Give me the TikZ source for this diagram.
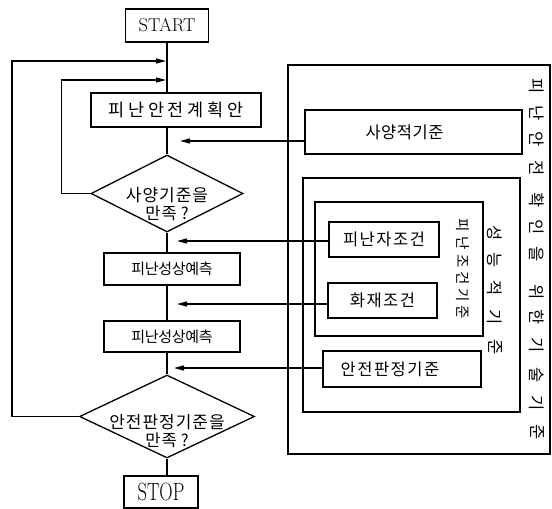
\documentclass[tikz,border=0pt]{standalone}
\usepackage{fontspec}
\newfontfamily\kr{Noto Sans CJK KR}
\usetikzlibrary{arrows.meta,shapes.geometric}
\makeatletter
\newcommand\trk[2]{\@tfor\trk@c:=#2\do{\trk@c\kern#1}\unkern}
\makeatother
\begin{document}
\begin{tikzpicture}[x=1pt,y=-1pt,
  ln/.style={line width=1.3pt},
  arr/.style={line width=1.3pt,-{Triangle[length=10pt,width=5pt]}},
  bx/.style={draw,line width=1.3pt,inner sep=0pt},
  dia/.style={draw,diamond,line width=1.3pt,inner sep=0pt},
  kt/.style={font=\kr\fontsize{16.5}{18}\selectfont},
  vt/.style={font=\kr\fontsize{16.5}{16}\selectfont,rotate=-90,inner sep=0pt},
  vs/.style={font=\kr\fontsize{14.5}{14}\selectfont,rotate=-90,inner sep=0pt}]
\useasboundingbox (0,0) rectangle (552,509);
% left flow
\node[bx,minimum width=83pt,minimum height=33pt] (st) at (167,25.5) {\fontsize{18.5}{20}\selectfont START};
\node[bx,minimum width=170pt,minimum height=34pt,kt] (b0) at (176,110) {\fontsize{17.5}{18}\selectfont\trk{3.8pt}{피난안전계획안}};
\node[dia,minimum width=152pt,minimum height=77pt] (d1) at (167,193.5) {};
\node[kt,align=center,inner sep=0pt] (d1t) at (167,204) {\fontsize{17}{21}\selectfont\trk{1pt}{사양기준을}\\\trk{1pt}{만족}\kern4pt?};
\node[bx,minimum width=136pt,minimum height=32pt,kt] (b1) at (172,269) {\fontsize{15}{16}\selectfont\trk{-0.3pt}{피난성상예측}};
\node[bx,minimum width=136pt,minimum height=31pt,kt] (b2) at (172,336.5) {\fontsize{15}{16}\selectfont\trk{-0.3pt}{피난성상예측}};
\node[dia,minimum width=175pt,minimum height=83pt] (d2) at (167,416.5) {};
\node[kt,align=center,inner sep=0pt] (d2t) at (167,431) {\fontsize{17}{24}\selectfont\trk{1pt}{안전판정기준을}\\\trk{1pt}{만족}\kern4pt?};
\node[bx,minimum width=74pt,minimum height=32pt] (sp) at (161,492) {\fontsize{18.5}{20}\selectfont\scalebox{1}[1.35]{STOP}};
% main line
\draw[ln] (st.south) -- (b0.north -| st.south);
\draw[ln] (b0.south -| st.south) -- (d1.north);
\draw[ln] (d1.south) -- (b1.north -| d1.south);
\draw[ln] (b1.south -| d1.south) -- (b2.north -| d1.south);
\draw[ln] (b2.south -| d1.south) -- (d2.north);
\draw[ln] (d2.south) -- (sp.north -| d2.south);
% feedback loops
\coordinate (in1) at (166,80);
\coordinate (in2) at (166,61);
\draw[arr] (d1.west) -- ++(-29,0) |- (in1);
\draw[arr] (d2.west) -- ++(-67,0) |- (in2);
% right side
\node[bx,minimum width=262pt,minimum height=389pt] (outer) at (419,259.5) {};
\node[bx,minimum width=217pt,minimum height=44pt,kt] (sy) at (413.5,132) {\trk{0.5pt}{사양적기준}\kern18pt};
\node[bx,minimum width=217pt,minimum height=234pt] (perf) at (411.5,295) {};
\node[bx,minimum width=168pt,minimum height=134pt] (evac) at (399,269) {};
\node[bx,minimum width=110pt,minimum height=35pt,kt] (pz) at (384,239.5) {\trk{1.5pt}{피난자조건}};
\node[bx,minimum width=109pt,minimum height=35pt,kt] (fire) at (382.5,300.5) {\trk{1.5pt}{화재조건}};
\node[bx,minimum width=158pt,minimum height=36pt,kt] (safe) at (402,369) {\trk{1.5pt}{안전판정기준}\kern24pt};
% arrows from criteria
\coordinate (a1) at (180,141);
\coordinate (a2) at (177,241);
\coordinate (a3) at (177,304);
\coordinate (a4) at (174,368);
\draw[arr] (sy.west |- a1) -- (a1);
\draw[arr] (pz.west |- a2) -- (a2);
\draw[arr] (fire.west |- a3) -- (a3);
\draw[arr] (safe.west |- a4) -- (a4);
% vertical texts
\foreach \c/\y [count=\i] in {피/86,난/113,안/139,전/168,확/200,인/227,을/254,위/292,한/317,기/345,술/375,기/403,준/432}
  \node[vt] (o\i) at (537,\y) {\c};
\foreach \c/\y [count=\i] in {성/233,능/260,적/288,기/317,준/347}
  \node[vt] (p\i) at (495,\y) {\c};
\foreach \c/\y [count=\i] in {피/225,난/243,조/261,건/278,기/295,준/312}
  \node[vs] (e\i) at (463,\y) {\c};
\end{tikzpicture}
\end{document}
